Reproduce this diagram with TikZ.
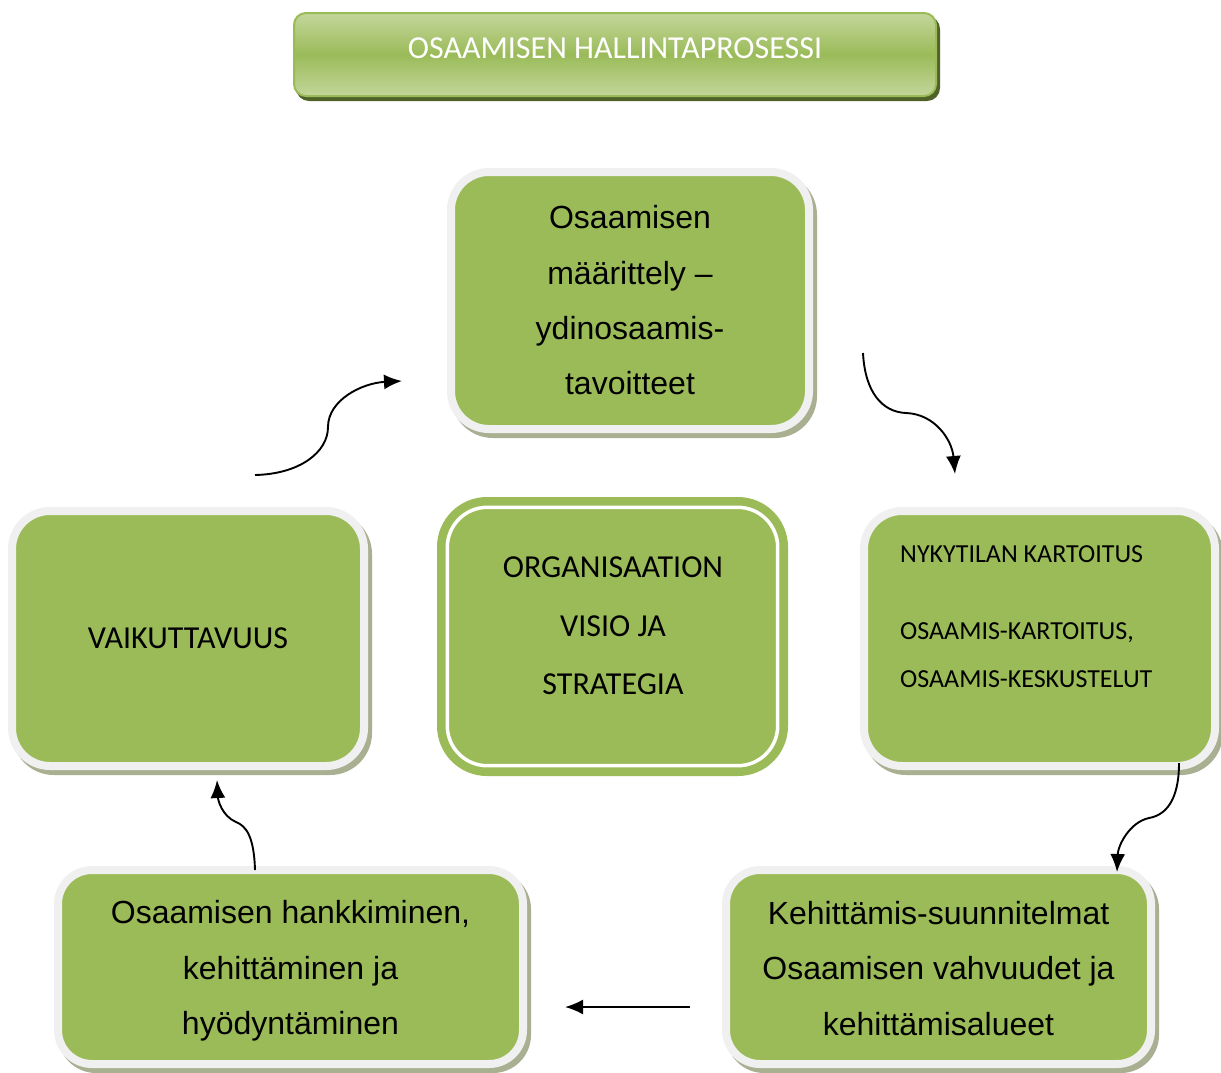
\documentclass[tikz,border=0pt]{standalone}
\usepackage{fontspec}
\setmainfont{Liberation Sans}
\newfontfamily\calfont{Carlito}
\usetikzlibrary{arrows.meta,calc}
\definecolor{boxgreen}{HTML}{9BBB59}
\definecolor{rimgray}{HTML}{F0F0F0}
\definecolor{shadowc}{HTML}{A9B092}
\definecolor{titletop}{HTML}{C3D69B}
\definecolor{titleshadow}{HTML}{4F6228}
\begin{document}
\begin{tikzpicture}[x=1pt,y=-1pt,
  greenbox/.style={preaction={fill=shadowc, draw=shadowc, line width=8pt, transform canvas={shift={(4pt,-5pt)}}},
    fill=boxgreen, draw=rimgray, line width=8pt, rounded corners=38pt, inner sep=0pt, align=center},
  titlebox/.style={preaction={fill=titleshadow, draw=titleshadow, line width=2pt, transform canvas={shift={(3pt,-4pt)}}},
    top color=titletop, bottom color=titletop, middle color=boxgreen, draw=boxgreen, line width=2pt,
    rounded corners=12pt, inner sep=0pt},
  arialtxt/.style={font=\fontsize{32}{55.3}\selectfont},
  caltxt/.style={font=\calfont\fontsize{32}{58.5}\selectfont},
  conn/.style={line width=1.9pt, -{Latex[length=18pt,width=15pt]}}
]
\useasboundingbox (0,0) rectangle (1221,1072);

% title
\node[titlebox, minimum width=642, minimum height=83] (title) at (615,54.5) {};
\node[text=white, font=\calfont\fontsize{32}{38}\selectfont, inner sep=0pt] (ttext) at (615,48) {OSAAMISEN HALLINTAPROSESSI};

% boxes
\node[greenbox, arialtxt, minimum width=358, minimum height=257] (top) at (630,300.5)
  {Osaamisen\\määrittely –\\ydinosaamis-\\tavoitteet};
\node[greenbox, font=\calfont\fontsize{32}{40}\selectfont, minimum width=352, minimum height=255] (left) at (188,638.5)
  {VAIKUTTAVUUS};
\node[greenbox, minimum width=351, minimum height=255] (right) at (1039.5,638.5) {};
\node[anchor=north west, align=left, inner sep=0pt, font=\calfont\fontsize{26}{48}\selectfont] (rtext) at (900,545.5)
  {NYKYTILAN KARTOITUS\\[29pt]OSAAMIS-KARTOITUS,\\OSAAMIS-KESKUSTELUT};
\node[greenbox, arialtxt, rounded corners=34pt, minimum width=465, minimum height=194] (bl) at (290.5,967)
  {\rule{0pt}{31pt}Osaamisen hankkiminen,\\kehittäminen ja\\hyödyntäminen};
\node[greenbox, arialtxt, rounded corners=34pt, minimum width=425, minimum height=194] (br) at (938.5,967)
  {\rule{0pt}{26pt}Kehittämis-suunnitelmat\\Osaamisen vahvuudet ja\\kehittämisalueet};

% center box
\node[fill=boxgreen, rounded corners=50pt, minimum width=351, minimum height=279, inner sep=0pt] (center) at (612.5,636.5) {};
\draw[white, line width=3.5pt, rounded corners=40pt] ($(center.north west)+(10.5,10.5)$) rectangle ($(center.south east)+(-10.5,-10.5)$);
\node[caltxt, align=center, inner sep=0pt] (ctext) at (613,626) {ORGANISAATION\\VISIO JA\\STRATEGIA};

% connectors
\coordinate (a1s) at (863,353); \coordinate (a1m) at (906,413); \coordinate (a1e) at (955,474);
\draw[conn] (a1s) .. controls (865,392) and (882,412) .. (a1m) .. controls (935,414) and (952,440) .. (a1e);

\coordinate (a2s) at (1179,763); \coordinate (a2m) at (1149,818); \coordinate (a2e) at (1117,872);
\draw[conn] (a2s) .. controls (1179,800) and (1166,815) .. (a2m) .. controls (1130,822) and (1118,845) .. (a2e);

\coordinate (a3s) at (690,1007); \coordinate (a3e) at (565,1007);
\draw[conn] (a3s) -- (a3e);

\coordinate (a4s) at (255,870); \coordinate (a4m) at (236,822); \coordinate (a4e) at (217,780);
\draw[conn] (a4s) .. controls (254,836) and (246,826) .. (a4m) .. controls (222,816) and (218,800) .. (a4e);

\coordinate (a5s) at (255,475); \coordinate (a5m) at (328,427); \coordinate (a5e) at (402,381);
\draw[conn] (a5s) .. controls (300,474) and (328,452) .. (a5m) .. controls (328,400) and (362,383) .. (a5e);
\end{tikzpicture}
\end{document}
